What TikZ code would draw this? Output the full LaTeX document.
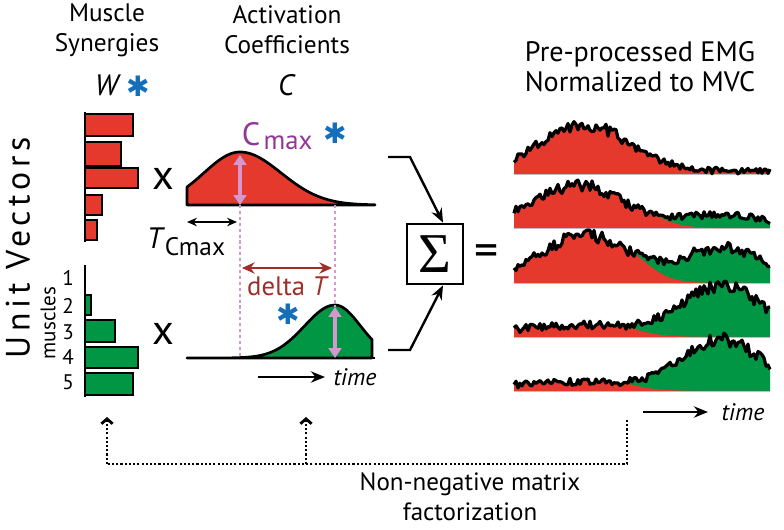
\documentclass[tikz,border=0pt]{standalone}
\usepackage{fontspec}
\setmainfont{PT Sans}
\newfontfamily\sigmafont{Liberation Serif}
\newfontfamily\starfont{DejaVu Sans}
\newfontfamily\spacedfont[LetterSpace=14]{PT Sans}
\usetikzlibrary{arrows.meta,positioning,calc}

\definecolor{emgred}{RGB}{229,57,45}
\definecolor{emggreen}{RGB}{0,150,68}
\definecolor{pinkarrow}{RGB}{214,150,206}
\definecolor{cmaxpurple}{RGB}{145,55,150}
\definecolor{deltabrown}{RGB}{160,45,40}
\definecolor{starblue}{RGB}{20,110,185}

% smooth parts of one EMG trace
\newcommand{\emgR}{(\ar*exp(-((\x-\cr)/\sr)^2))}
\newcommand{\emgG}{(\ag*exp(-((\x-722)/55)^2))}
\newcommand{\emgsig}{(\emgR+\emgG+3)}
\newcommand{\emgnoise}{(3.2+0.07*\emgsig)*rand}
\newcommand{\emgredtop}{((\emgR+7+0.07*\emgsig)*\emgR/(\emgR+\emgG+0.0001))}

\tikzset{
  lbl/.style={font=\fontsize{18}{21.5}\selectfont, inner sep=0pt},
  smalllbl/.style={font=\fontsize{15}{18}\selectfont, inner sep=0pt},
  starlbl/.style={font=\starfont\fontsize{20}{20}\selectfont, text=starblue, inner sep=0pt},
  timeslbl/.style={font=\fontsize{30}{30}\selectfont, inner sep=0pt},
  synbar/.style={draw=black, line width=1.6pt},
  actcurve/.style={draw=black, line width=1.9pt, line join=round},
  pinkarr/.style={draw=pinkarrow, line width=2.6pt,
    {Triangle[length=7pt,width=9pt]}-{Triangle[length=7pt,width=9pt]}},
  guideline/.style={draw=pinkarrow, line width=1.7pt, dash pattern=on 2.2pt off 2pt},
  timearr/.style={-{Stealth[length=10pt,width=8pt]}, line width=2pt},
  sumarr/.style={-{Stealth[length=10pt,width=8pt]}, line width=1.7pt},
  sumbox/.style={draw, line width=1.4pt, minimum width=1.42cm, minimum height=1.52cm,
    inner sep=0pt, font=\sigmafont\fontsize{40}{40}\selectfont},
  emgline/.style={line width=2.3pt, line join=round},
  nmfdot/.style={line width=1.8pt, dash pattern=on 1.5pt off 1.5pt},
  nmftip/.style={-{Straight Barb[length=3.5pt,width=8pt,line width=2pt]}}
}

\begin{document}
\begin{tikzpicture}[x=0.025cm,y=-0.025cm]
  \useasboundingbox (0,0) rectangle (784,529);

  % column headings
  \node[lbl, align=center] (synhead) at (107,30) {Muscle\\Synergies};
  \node[lbl, align=center] (acthead) at (287,30) {Activation\\Coefficients};
  \node[lbl, align=center, font=\fontsize{20}{21.5}\selectfont] (emghead) at (640,67) {Pre-processed EMG\\Normalized to MVC};
  \node[lbl, font=\fontsize{21}{21}\selectfont] (wlabel) at (108,85) {\textit{W}};
  \node[starlbl] (wstar) at (138,86) {✱};
  \node[lbl, font=\fontsize{21}{21}\selectfont] (clabel) at (287,85) {\textit{C}};

  % side labels
  \node[font=\spacedfont\fontsize{24}{24}\selectfont, inner sep=0pt, rotate=90] (unitvec) at (18,248) {Unit Vectors};
  \node[smalllbl, rotate=90] (muscles) at (48,323) {muscles};
  \foreach \n/\y in {1/278,2/306,3/332,4/357,5/382}
    \node[smalllbl] (musc\n) at (68,\y) {\n};

  % synergy bars
  \foreach \t/\b/\r in {114/136/133, 142/166/121, 168/188/138, 195/215/102, 220/240/97}
    \draw[synbar, fill=emgred] (85,\t) rectangle (\r,\b);
  \draw[synbar] (85,112) -- (85,242);
  \foreach \t/\b/\r in {295/315/91, 320/342/115, 347/368/138, 373/395/133}
    \draw[synbar, fill=emggreen] (85,\t) rectangle (\r,\b);
  \draw[synbar] (85,265) -- (85,397);

  \node[timeslbl] (times1) at (163,179) {x};
  \node[timeslbl] (times2) at (163,334) {x};

  % activation coefficients
  \draw[actcurve, fill=emgred] (187,205)
    -- plot[domain=187:240, samples=30] (\x,{205-53*exp(-((\x-240)/51)^2)})
    -- plot[domain=240:375, samples=60] (\x,{205-53*exp(-((\x-240)/58)^2)})
    -- (375,205) -- cycle;
  \draw[actcurve, fill=emggreen] (187,358)
    -- plot[domain=187:335, samples=60] (\x,{358-53*exp(-((\x-335)/43)^2)})
    -- plot[domain=335:372, samples=20] (\x,{358-53*exp(-((\x-335)/36)^2)})
    -- (372,358) -- cycle;
  \draw[actcurve] (372,358) -- (375,358);

  \coordinate (redpeak) at (240,155);
  \coordinate (redfoot) at (240,205);
  \coordinate (greenpeak) at (335,307);
  \coordinate (greenfoot) at (335,358);
  \draw[guideline] (redfoot) -- (240,358);
  \draw[guideline] (335,205) -- (greenpeak);
  \draw[pinkarr] (redfoot) -- (redpeak);
  \draw[pinkarr] (greenfoot) -- (greenpeak);

  \node[font=\fontsize{23}{23}\selectfont, inner sep=0pt, text=cmaxpurple] (cmax) at (251,134) {C};
  \node[font=\fontsize{19}{19}\selectfont, inner sep=0pt, text=cmaxpurple] (cmaxsub) at (288,143) {max};
  \node[starlbl] (cmaxstar) at (335,133) {✱};

  \draw[{Stealth[length=7pt,width=6pt]}-{Stealth[length=7pt,width=6pt]}, line width=1.4pt] (187,222) -- (237,222);
  \node[font=\fontsize{21}{21}\selectfont, inner sep=0pt] (tcmax) at (156,238) {\textit{T}};
  \node[font=\fontsize{18}{18}\selectfont, inner sep=0pt] (tcmaxsub) at (195,247) {Cmax};

  \draw[deltabrown, line width=2pt, {Stealth[length=9pt,width=8pt]}-{Stealth[length=9pt,width=8pt]}] (242,268) -- (332,268);
  \node[lbl, font=\fontsize{19}{19}\selectfont, text=deltabrown] (deltat) at (288,286) {delta \textit{T}};
  \node[starlbl] (deltastar) at (288,314) {✱};

  \coordinate (acttime) at (258,377);
  \draw[timearr] (acttime) -- (325,377);
  \node[lbl, font=\fontsize{17}{17}\selectfont\itshape] (acttimelbl) at (355,377) {time};

  % summation
  \node[sumbox] (sum) at (435,254) {Σ};
  \coordinate (redout) at (388,157);
  \coordinate (greenout) at (388,350);
  \draw[sumarr] (redout) -- ++(22,0) -- ([xshift=0.2cm]sum.north);
  \draw[sumarr] (greenout) -- ++(22,0) -- ([xshift=0.2cm]sum.south);
  \node[font=\fontsize{34}{34}\selectfont, inner sep=0pt] (equals) at (487,256) {=};

  % EMG traces
  \foreach \base/\ar/\cr/\sr/\ag/\seed in {174/46/585/62/0/31, 228/40/578/62/10/57,
      283/45/585/62/32/83, 337/9/580/80/48/12, 391/6/580/80/48/45}{
    \pgfmathsetseed{\seed}
    \fill[emggreen] (514,\base)
      -- plot[domain=514:770, samples=129] (\x,{\base-\emgsig-\emgnoise})
      -- (770,\base) -- cycle;
    \begin{scope}
      \pgfmathsetseed{\seed}
      \clip (514,\base)
        -- plot[domain=514:770, samples=129] (\x,{\base-\emgsig-\emgnoise})
        -- (770,\base) -- cycle;
      \fill[emgred] (514,\base)
        -- plot[domain=514:770, samples=129] (\x,{\base-\emgredtop})
        -- (770,\base) -- cycle;
    \end{scope}
    \draw[gray!50, line width=0.5pt] (514,\base) -- (770,\base);
    \pgfmathsetseed{\seed}
    \draw[emgline] plot[domain=514:770, samples=129] (\x,{\base-\emgsig-\emgnoise});
  }

  \coordinate (emgtime) at (643,412);
  \draw[timearr] (emgtime) -- (708,412);
  \node[lbl, font=\fontsize{17}{17}\selectfont\itshape] (emgtimelbl) at (743,412) {time};

  % factorization
  \coordinate (nmfw) at (107,417);
  \coordinate (nmfc) at (306,417);
  \coordinate (nmfemg) at (627,420);
  \draw[nmfdot] (nmfemg) -- (627,464) -- (107,464);
  \draw[nmfdot, nmftip] (107,464) -- (nmfw);
  \draw[nmfdot, nmftip] (306,464) -- (nmfc);
  \node[lbl, align=center, font=\fontsize{17.8}{21.3}\selectfont] (nmf) at (470,497) {Non-negative matrix\\factorization};
\end{tikzpicture}
\end{document}
